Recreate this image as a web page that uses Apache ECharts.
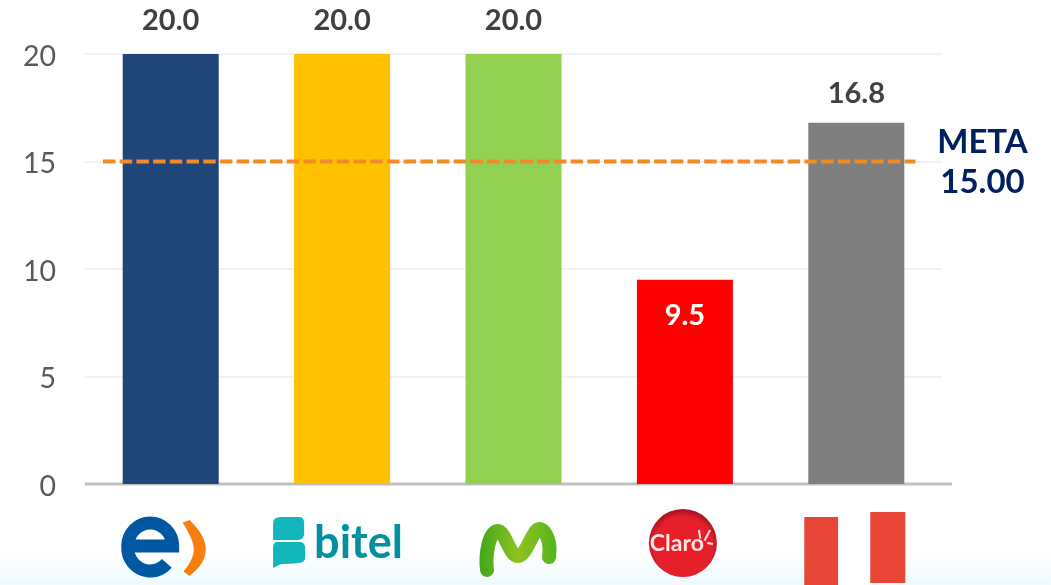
<!DOCTYPE html>
<html>
<head>
<meta charset="utf-8">
<script src="https://cdn.jsdelivr.net/npm/echarts@6/dist/echarts.min.js"></script>
<style>
html,body{margin:0;padding:0;width:1051px;height:585px;overflow:hidden;
background:linear-gradient(to bottom,#ffffff 0,#ffffff 553px,#eefafe 585px);}
#c{width:1051px;height:585px;}
</style>
</head>
<body>
<div id="c"></div>
<script>
const categories = ['Enel', 'Bitel', 'Movistar', 'Claro', 'Perú'];
const values = [20.0, 20.0, 20.0, 9.5, 16.8];
const barColors = ['#1f4678', '#ffc000', '#92d050', '#ff0000', '#7f7f7f'];
const yTicks = { min: 0, max: 20, interval: 5 };
const metaValue = 15;
const metaLabel = 'META';
const metaSpan = [0.105, 4.845];
const baselineSpan = [0, 5.058];

function pathEl(d, bbox, style) {
  return { type: 'path', shape: { pathData: d, layout: 'cover', x: bbox[0], y: bbox[1], width: bbox[2], height: bbox[3] }, style: style };
}

// Logos under each category, drawn relative to the category's point on the axis.
const logos = {
  Enel() {
    return [
      pathEl('M-23 1 H23 A23 24 0 1 0 -23 1 A23 24 0 0 0 17 19', [-43, 39, 45, 48],
        { fill: 'none', stroke: '#0058a3', lineWidth: 13 }),
      pathEl('M0 0 L8 -3 C22 10 27 20 27 30 C27 40 22 50 8 60 L1 55 C9 46 13 38 13 30 C13 22 8 12 0 0 Z', [12, 36, 23, 56],
        { fill: '#f77d0f' })
    ];
  },
  Bitel() {
    return [
      pathEl('M8 0 H26 Q31 0 31 6 V16 Q31 23 25 23 H0 V6 Q0 0 8 0 Z', [-69, 33, 31, 23], { fill: '#12b5ba' }),
      pathEl('M4 0 H27 Q32 0 32 7 V17 Q32 22 24 22 L7 23 L0 27 V6 Q0 0 4 0 Z', [-69, 58, 32, 26], { fill: '#12b5ba' }),
      { type: 'text', x: -28, y: 59, style: { text: 'bitel', fill: '#00909e', fontFamily: 'Lato', fontWeight: 'bold', fontSize: 45, align: 'left', verticalAlign: 'middle' } }
    ];
  },
  Movistar() {
    return [
      pathEl('M0 41 C-2 25 2 4 10 2 C18 0 22 27 31 27 C40 27 46 -2 53 0 C60 2 64 15 62 28', [-27, 45, 63, 41],
        { fill: 'none', stroke: { type: 'linear', x: 0, y: 0, x2: 1, y2: 0, colorStops: [{ offset: 0, color: '#3fa81a' }, { offset: 0.5, color: '#8cc320' }, { offset: 1, color: '#55b51c' }] }, lineWidth: 14, lineCap: 'round', lineJoin: 'round' })
    ];
  },
  Claro() {
    return [
      { type: 'circle', shape: { cx: -2, cy: 59, r: 34 },
        style: { fill: { type: 'radial', x: 0.5, y: 0.55, r: 0.55, colorStops: [{ offset: 0, color: '#ee1c25' }, { offset: 0.8, color: '#e3202c' }, { offset: 1, color: '#a01018' }] } } },
      { type: 'text', x: -8, y: 60, style: { text: 'Claro', fill: '#ffe6e0', fontFamily: 'Lato', fontWeight: 'bold', fontSize: 23, align: 'center', verticalAlign: 'middle' } },
      pathEl('M0 0 L2 8 M16 0 L8 10 M12 12 L20 13', [14, 46, 14, 14], { fill: 'none', stroke: '#ffe6e0', lineWidth: 2 })
    ];
  },
  'Perú'() {
    return [
      { type: 'rect', shape: { x: -52, y: 33, width: 34, height: 68 }, style: { fill: '#e74536' } },
      { type: 'rect', shape: { x: -18, y: 30, width: 32, height: 71 }, style: { fill: '#ffffff' } },
      { type: 'rect', shape: { x: 14, y: 28, width: 35, height: 71 }, style: { fill: '#e74536' } }
    ];
  }
};

const barData = values.map(function (v, i) {
  const isInside = v < 10;
  const isLower = v < 20 && !isInside;
  return {
    value: v,
    itemStyle: { color: barColors[i] },
    label: {
      position: isInside ? 'insideTop' : 'top',
      distance: isInside ? 21 : (isLower ? 15 : 19),
      color: isInside ? '#ffffff' : '#404040'
    }
  };
});

const chart = echarts.init(document.getElementById('c'), null, { renderer: 'canvas' });
chart.setOption({
  animation: false,
  backgroundColor: 'transparent',
  textStyle: { fontFamily: 'Lato' },
  grid: [
    { left: 85, right: 109, top: 54, bottom: 101 },
    { left: 85, right: 99, top: 54, bottom: 101 }
  ],
  xAxis: [
    { type: 'category', gridIndex: 0, data: categories, axisLine: { show: false }, axisTick: { show: false }, axisLabel: { show: false }, splitLine: { show: false } },
    { type: 'value', gridIndex: 1, min: baselineSpan[0], max: baselineSpan[1], show: false }
  ],
  yAxis: [
    {
      type: 'value', gridIndex: 0, min: yTicks.min, max: yTicks.max, interval: yTicks.interval,
      axisLine: { show: false }, axisTick: { show: false },
      axisLabel: {
        margin: 29, formatter: '{t|{value}}',
        rich: { t: { fontFamily: 'Lato', fontSize: 28.5, color: '#595959', padding: [5, 0, 0, 0] } }
      },
      splitLine: { lineStyle: { color: '#f2f2f2', width: 2 } }
    },
    { type: 'value', gridIndex: 1, min: yTicks.min, max: yTicks.max, interval: yTicks.interval, show: false }
  ],
  series: [
    {
      name: 'Base', type: 'line', xAxisIndex: 1, yAxisIndex: 1, clip: false, z: 1, symbol: 'none', silent: true,
      data: baselineSpan.map(function (x) { return [x, 0]; }),
      lineStyle: { color: '#bfbfbf', width: 3 }
    },
    {
      name: 'Valor', type: 'bar', xAxisIndex: 0, yAxisIndex: 0, barWidth: 96, z: 2, data: barData,
      label: { show: true, fontFamily: 'Lato', fontWeight: 'bold', fontSize: 29, formatter: function (p) { return p.value.toFixed(1); } }
    },
    {
      name: metaLabel, type: 'line', xAxisIndex: 1, yAxisIndex: 1, z: 3, symbol: 'none', silent: true,
      data: metaSpan.map(function (x) { return [x, metaValue]; }),
      lineStyle: { color: '#f28a2a', width: 4, type: [12.5, 4.2] },
      endLabel: {
        show: true, formatter: metaLabel + '\n' + metaValue.toFixed(2),
        fontFamily: 'Lato', fontWeight: 'bold', fontSize: 33, lineHeight: 40, color: '#002060',
        align: 'center', verticalAlign: 'middle', offset: [67, 1], distance: 0
      }
    },
    {
      name: 'Logos', type: 'custom', xAxisIndex: 0, yAxisIndex: 0, clip: false, z: 4, silent: true,
      data: categories.map(function (c, i) { return [i, 0]; }),
      encode: { x: 0, y: 1 },
      renderItem: function (params, api) {
        const p = api.coord([api.value(0), 0]);
        return { type: 'group', x: p[0], y: p[1], children: logos[categories[params.dataIndex]]() };
      }
    }
  ]
});
</script>
</body>
</html>
